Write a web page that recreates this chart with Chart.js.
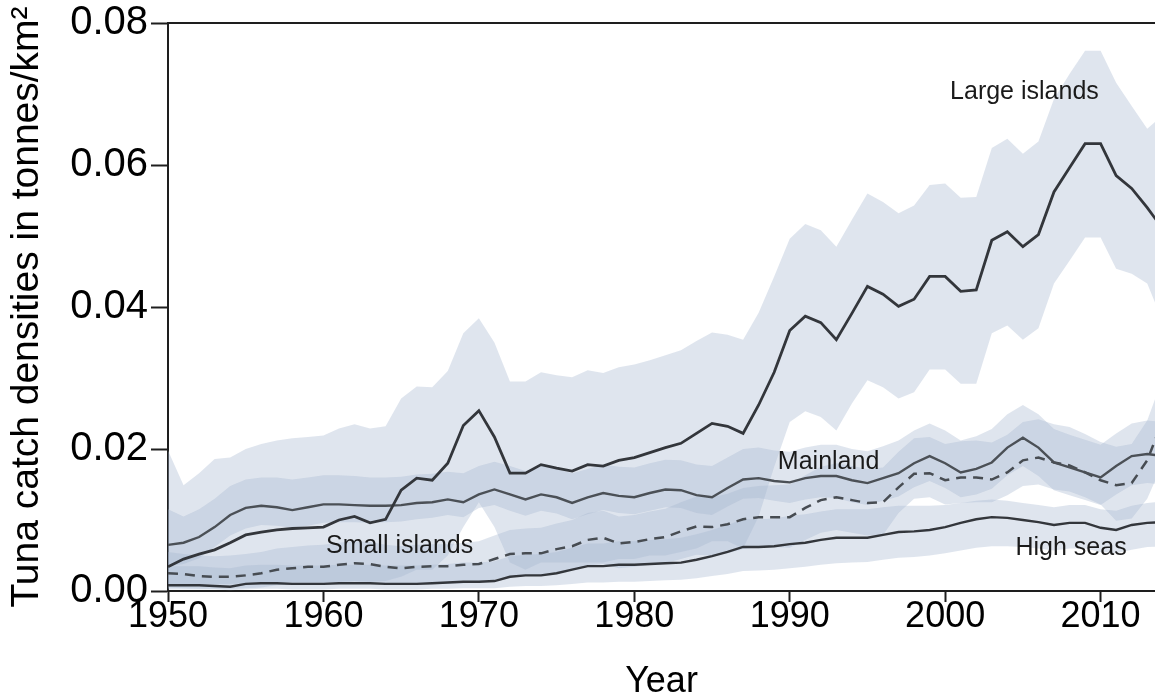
<!DOCTYPE html>
<html>
<head>
<meta charset="utf-8">
<script src="https://cdn.jsdelivr.net/npm/chart.js@4"></script>
<style>
  body { margin: 0; background: #fff; }
  #wrap { width: 1155px; height: 700px; }
</style>
</head>
<body>
<div id="wrap"><canvas id="tuna" width="1155" height="700"></canvas></div>
<script>
// years 1950..2014
const years = [1950,1951,1952,1953,1954,1955,1956,1957,1958,1959,1960,1961,1962,1963,1964,1965,1966,1967,1968,1969,
  1970,1971,1972,1973,1974,1975,1976,1977,1978,1979,1980,1981,1982,1983,1984,1985,1986,1987,1988,1989,
  1990,1991,1992,1993,1994,1995,1996,1997,1998,1999,2000,2001,2002,2003,2004,2005,2006,2007,2008,2009,
  2010,2011,2012,2013,2014];

// Large islands
const largeMid = [0.0034,0.0045,0.0052,0.0058,0.0068,0.0079,0.0083,0.0086,0.0088,0.0089,0.0090,0.0100,0.0105,0.0096,0.0101,0.0142,0.0159,0.0156,0.0180,0.0233,
  0.0254,0.0217,0.0166,0.0166,0.0178,0.0173,0.0169,0.0178,0.0176,0.0184,0.0188,0.0195,0.0202,0.0208,0.0222,0.0236,0.0232,0.0222,0.0262,0.0308,
  0.0367,0.0387,0.0378,0.0354,0.0391,0.0429,0.0418,0.0401,0.0411,0.0443,0.0443,0.0422,0.0424,0.0494,0.0506,0.0485,0.0502,0.0562,0.0596,0.0630,
  0.0630,0.0585,0.0567,0.0540,0.0510];
const largeHi = [0.0198,0.0149,0.0166,0.0186,0.0188,0.0200,0.0207,0.0212,0.0215,0.0217,0.0219,0.0229,0.0235,0.0229,0.0232,0.0271,0.0288,0.0287,0.0310,0.0363,
  0.0384,0.0350,0.0295,0.0295,0.0308,0.0304,0.0301,0.0311,0.0307,0.0315,0.0319,0.0325,0.0332,0.0339,0.0352,0.0364,0.0361,0.0354,0.0392,0.0443,
  0.0496,0.0517,0.0508,0.0485,0.0523,0.0560,0.0548,0.0532,0.0543,0.0572,0.0574,0.0554,0.0555,0.0624,0.0637,0.0616,0.0633,0.0693,0.0728,0.0761,
  0.0761,0.0716,0.0683,0.0651,0.0670];
const largeLo = [0.0008,0.0008,0.0009,0.0010,0.0010,0.0011,0.0012,0.0012,0.0012,0.0012,0.0012,0.0013,0.0014,0.0013,0.0014,0.0020,0.0030,0.0030,0.0050,0.0090,
  0.0125,0.0090,0.0040,0.0030,0.0040,0.0040,0.0040,0.0040,0.0040,0.0045,0.0045,0.0050,0.0050,0.0055,0.0060,0.0070,0.0070,0.0060,0.0105,0.0175,
  0.0238,0.0253,0.0245,0.0226,0.0264,0.0297,0.0287,0.0271,0.0280,0.0312,0.0312,0.0292,0.0292,0.0363,0.0374,0.0354,0.0370,0.0433,0.0465,0.0498,
  0.0498,0.0454,0.0447,0.0433,0.0380];

// Mainland
const mainMid = [0.0065,0.0068,0.0076,0.0090,0.0107,0.0117,0.0120,0.0118,0.0114,0.0118,0.0122,0.0122,0.0121,0.0120,0.0120,0.0121,0.0124,0.0125,0.0129,0.0125,
  0.0136,0.0143,0.0136,0.0129,0.0136,0.0132,0.0124,0.0132,0.0138,0.0134,0.0132,0.0138,0.0143,0.0142,0.0135,0.0132,0.0145,0.0157,0.0159,0.0155,
  0.0153,0.0159,0.0162,0.0162,0.0156,0.0152,0.0159,0.0166,0.0180,0.0190,0.0180,0.0167,0.0172,0.0181,0.0202,0.0216,0.0202,0.0181,0.0174,0.0167,
  0.0160,0.0176,0.0190,0.0193,0.0190];
const mainHi = [0.0115,0.0105,0.0115,0.0130,0.0148,0.0157,0.0160,0.0160,0.0157,0.0160,0.0163,0.0163,0.0162,0.0160,0.0160,0.0161,0.0164,0.0165,0.0168,0.0166,
  0.0176,0.0182,0.0176,0.0169,0.0176,0.0172,0.0166,0.0172,0.0178,0.0175,0.0174,0.0180,0.0185,0.0184,0.0178,0.0176,0.0188,0.0200,0.0202,0.0198,
  0.0196,0.0202,0.0206,0.0206,0.0200,0.0197,0.0204,0.0212,0.0226,0.0236,0.0226,0.0212,0.0218,0.0228,0.0249,0.0262,0.0249,0.0228,0.0220,0.0213,
  0.0206,0.0222,0.0236,0.0240,0.0238];
const mainLo = [0.0035,0.0038,0.0046,0.0062,0.0078,0.0088,0.0093,0.0092,0.0089,0.0092,0.0096,0.0097,0.0097,0.0096,0.0097,0.0098,0.0101,0.0103,0.0107,0.0104,
  0.0117,0.0121,0.0113,0.0106,0.0113,0.0109,0.0101,0.0108,0.0114,0.0110,0.0108,0.0113,0.0118,0.0117,0.0110,0.0107,0.0119,0.0130,0.0131,0.0127,
  0.0124,0.0129,0.0132,0.0131,0.0125,0.0121,0.0127,0.0133,0.0146,0.0155,0.0145,0.0132,0.0136,0.0144,0.0163,0.0176,0.0162,0.0142,0.0135,0.0128,
  0.0121,0.0136,0.0149,0.0152,0.0150];

// Small islands
const smallMid = [0.0025,0.0024,0.0021,0.0020,0.0020,0.0022,0.0025,0.0030,0.0032,0.0034,0.0034,0.0037,0.0039,0.0038,0.0034,0.0032,0.0034,0.0035,0.0035,0.0037,
  0.0038,0.0045,0.0052,0.0053,0.0053,0.0059,0.0063,0.0072,0.0075,0.0067,0.0069,0.0073,0.0076,0.0084,0.0091,0.0090,0.0094,0.0101,0.0104,0.0104,
  0.0104,0.0117,0.0128,0.0132,0.0128,0.0124,0.0125,0.0146,0.0165,0.0166,0.0156,0.0160,0.0160,0.0157,0.0167,0.0184,0.0188,0.0181,0.0177,0.0167,
  0.0156,0.0149,0.0152,0.0184,0.0240];
const smallHi = [0.0055,0.0052,0.0050,0.0049,0.0050,0.0052,0.0055,0.0060,0.0062,0.0064,0.0065,0.0068,0.0070,0.0069,0.0065,0.0063,0.0065,0.0066,0.0066,0.0068,
  0.0070,0.0078,0.0086,0.0088,0.0089,0.0095,0.0100,0.0110,0.0113,0.0105,0.0107,0.0112,0.0116,0.0125,0.0133,0.0132,0.0137,0.0145,0.0148,0.0149,
  0.0150,0.0163,0.0175,0.0180,0.0176,0.0172,0.0174,0.0196,0.0215,0.0217,0.0207,0.0211,0.0212,0.0209,0.0220,0.0238,0.0242,0.0235,0.0231,0.0221,
  0.0210,0.0203,0.0207,0.0240,0.0300];
const smallLo = [0.0005,0.0004,0.0003,0.0003,0.0003,0.0004,0.0005,0.0008,0.0009,0.0010,0.0010,0.0012,0.0013,0.0012,0.0010,0.0009,0.0010,0.0010,0.0010,0.0011,
  0.0012,0.0016,0.0021,0.0022,0.0022,0.0026,0.0029,0.0036,0.0038,0.0032,0.0034,0.0037,0.0039,0.0045,0.0051,0.0050,0.0053,0.0059,0.0062,0.0062,
  0.0061,0.0072,0.0082,0.0086,0.0082,0.0078,0.0079,0.0110,0.0130,0.0132,0.0122,0.0124,0.0125,0.0125,0.0135,0.0148,0.0150,0.0143,0.0140,0.0132,
  0.0122,0.0099,0.0102,0.0130,0.0180];

// High seas
const highMid = [0.0008,0.0008,0.0008,0.0007,0.0006,0.0010,0.0011,0.0011,0.0010,0.0010,0.0010,0.0011,0.0011,0.0011,0.0010,0.0010,0.0010,0.0011,0.0012,0.0013,
  0.0013,0.0014,0.0020,0.0022,0.0022,0.0025,0.0030,0.0035,0.0035,0.0037,0.0037,0.0038,0.0039,0.0040,0.0044,0.0049,0.0055,0.0062,0.0062,0.0063,
  0.0066,0.0068,0.0072,0.0075,0.0075,0.0075,0.0079,0.0083,0.0084,0.0086,0.0090,0.0096,0.0101,0.0104,0.0103,0.0100,0.0097,0.0093,0.0096,0.0096,
  0.0089,0.0086,0.0093,0.0096,0.0097];
const highHi = [0.0035,0.0035,0.0035,0.0033,0.0032,0.0036,0.0037,0.0037,0.0036,0.0036,0.0036,0.0037,0.0037,0.0037,0.0036,0.0036,0.0036,0.0037,0.0038,0.0040,
  0.0040,0.0042,0.0049,0.0051,0.0052,0.0055,0.0061,0.0067,0.0067,0.0070,0.0070,0.0072,0.0073,0.0075,0.0080,0.0086,0.0093,0.0101,0.0101,0.0102,
  0.0106,0.0108,0.0112,0.0115,0.0115,0.0115,0.0118,0.0120,0.0120,0.0120,0.0121,0.0124,0.0127,0.0129,0.0127,0.0124,0.0121,0.0118,0.0121,0.0121,
  0.0115,0.0113,0.0120,0.0124,0.0126];
const highLo = [0.0002,0.0002,0.0002,0.0002,0.0001,0.0002,0.0003,0.0003,0.0002,0.0002,0.0002,0.0003,0.0003,0.0003,0.0002,0.0002,0.0002,0.0003,0.0003,0.0004,
  0.0004,0.0004,0.0006,0.0007,0.0007,0.0008,0.0010,0.0012,0.0012,0.0013,0.0013,0.0014,0.0015,0.0016,0.0018,0.0021,0.0024,0.0028,0.0029,0.0030,
  0.0032,0.0034,0.0037,0.0039,0.0040,0.0041,0.0044,0.0047,0.0048,0.0050,0.0053,0.0057,0.0061,0.0063,0.0063,0.0062,0.0060,0.0057,0.0060,0.0060,
  0.0055,0.0053,0.0058,0.0062,0.0063];

const yTicks = [0, 0.02, 0.04, 0.06, 0.08];
const xTicks = [1950, 1960, 1970, 1980, 1990, 2000, 2010];

// text labels placed next to the curves
const curveLabels = [
  { text: 'Large islands', x: 2005.1, y: 0.0703 },
  { text: 'Mainland', x: 1992.5, y: 0.0181 },
  { text: 'Small islands', x: 1964.9, y: 0.0063 },
  { text: 'High seas', x: 2008.1, y: 0.0060 }
];

const bandFill = 'rgba(166,184,208,0.36)';
const pts = (arr) => years.map((yr, i) => ({ x: yr, y: arr[i] }));

function band(lo, hi) {
  return [
    { data: pts(lo), borderWidth: 0, pointRadius: 0, fill: false, order: 2 },
    { data: pts(hi), borderWidth: 0, pointRadius: 0, fill: '-1', backgroundColor: bandFill, order: 2 }
  ];
}

function line(arr, color, width, dash) {
  return { data: pts(arr), borderColor: color, borderWidth: width, borderDash: dash || [],
    pointRadius: 0, fill: false, tension: 0, order: 0 };
}

const datasets = [
  ...band(largeLo, largeHi),
  ...band(mainLo, mainHi),
  ...band(smallLo, smallHi),
  ...band(highLo, highHi),
  line(largeMid, '#33363b', 2.8),
  line(mainMid, '#4b5056', 2.4),
  line(smallMid, '#474c52', 2.5, [10, 7]),
  line(highMid, '#33363b', 2.4)
];

// draws the box top and curve names
const extras = {
  id: 'extras',
  afterDatasetsDraw(chart) {
    const { ctx, chartArea, scales } = chart;
    ctx.save();
    ctx.strokeStyle = '#1e1e1e';
    ctx.lineWidth = 2;
    ctx.beginPath();
    ctx.moveTo(chartArea.left, chartArea.top);
    ctx.lineTo(chartArea.right, chartArea.top);
    ctx.stroke();
    ctx.fillStyle = '#1a1a1a';
    ctx.font = '25px "Liberation Sans", Arial, sans-serif';
    ctx.textAlign = 'center';
    ctx.textBaseline = 'middle';
    curveLabels.forEach(l => {
      ctx.fillText(l.text, scales.x.getPixelForValue(l.x), scales.y.getPixelForValue(l.y));
    });
    ctx.restore();
  }
};

const ctx = document.getElementById('tuna').getContext('2d');
new Chart(ctx, {
  type: 'line',
  data: { datasets: datasets },
  options: {
    responsive: false,
    animation: false,
    layout: { padding: { top: 22, right: 0, left: 0, bottom: 0 } },
    plugins: { legend: { display: false }, tooltip: { enabled: false } },
    scales: {
      x: {
        type: 'linear',
        min: 1950,
        max: 2013.5,
        afterBuildTicks: (s) => { s.ticks = xTicks.map(v => ({ value: v })); },
        afterFit: (s) => { s.height = 109; },
        ticks: { color: '#000', padding: -3, font: { size: 36, family: '"Liberation Sans", Arial', lineHeight: 1 },
          maxRotation: 0, callback: (v) => String(v) },
        grid: { drawOnChartArea: false, drawTicks: true, tickLength: 11, tickColor: '#1e1e1e', tickWidth: 2 },
        border: { display: true, color: '#1e1e1e', width: 2 },
        title: { display: true, text: 'Year', color: '#000', padding: 0,
          font: { size: 36, family: '"Liberation Sans", Arial', lineHeight: 1 } }
      },
      y: {
        min: 0,
        max: 0.08,
        afterBuildTicks: (s) => { s.ticks = yTicks.map(v => ({ value: v })); },
        afterFit: (s) => { s.width = 168; },
        ticks: { color: '#000', padding: 3, font: { size: 40, family: '"Liberation Sans", Arial', lineHeight: 1 },
          callback: (v) => v.toFixed(2) },
        grid: { drawOnChartArea: false, drawTicks: true, tickLength: 17, tickColor: '#1e1e1e', tickWidth: 2 },
        border: { display: true, color: '#1e1e1e', width: 2 },
        title: { display: true, text: 'Tuna catch densities in tonnes/km²', color: '#000',
          padding: { top: 8, bottom: 0 },
          font: { size: 39, family: '"Liberation Sans", Arial', lineHeight: 1 } }
      }
    }
  },
  plugins: [extras]
});
</script>
</body>
</html>
